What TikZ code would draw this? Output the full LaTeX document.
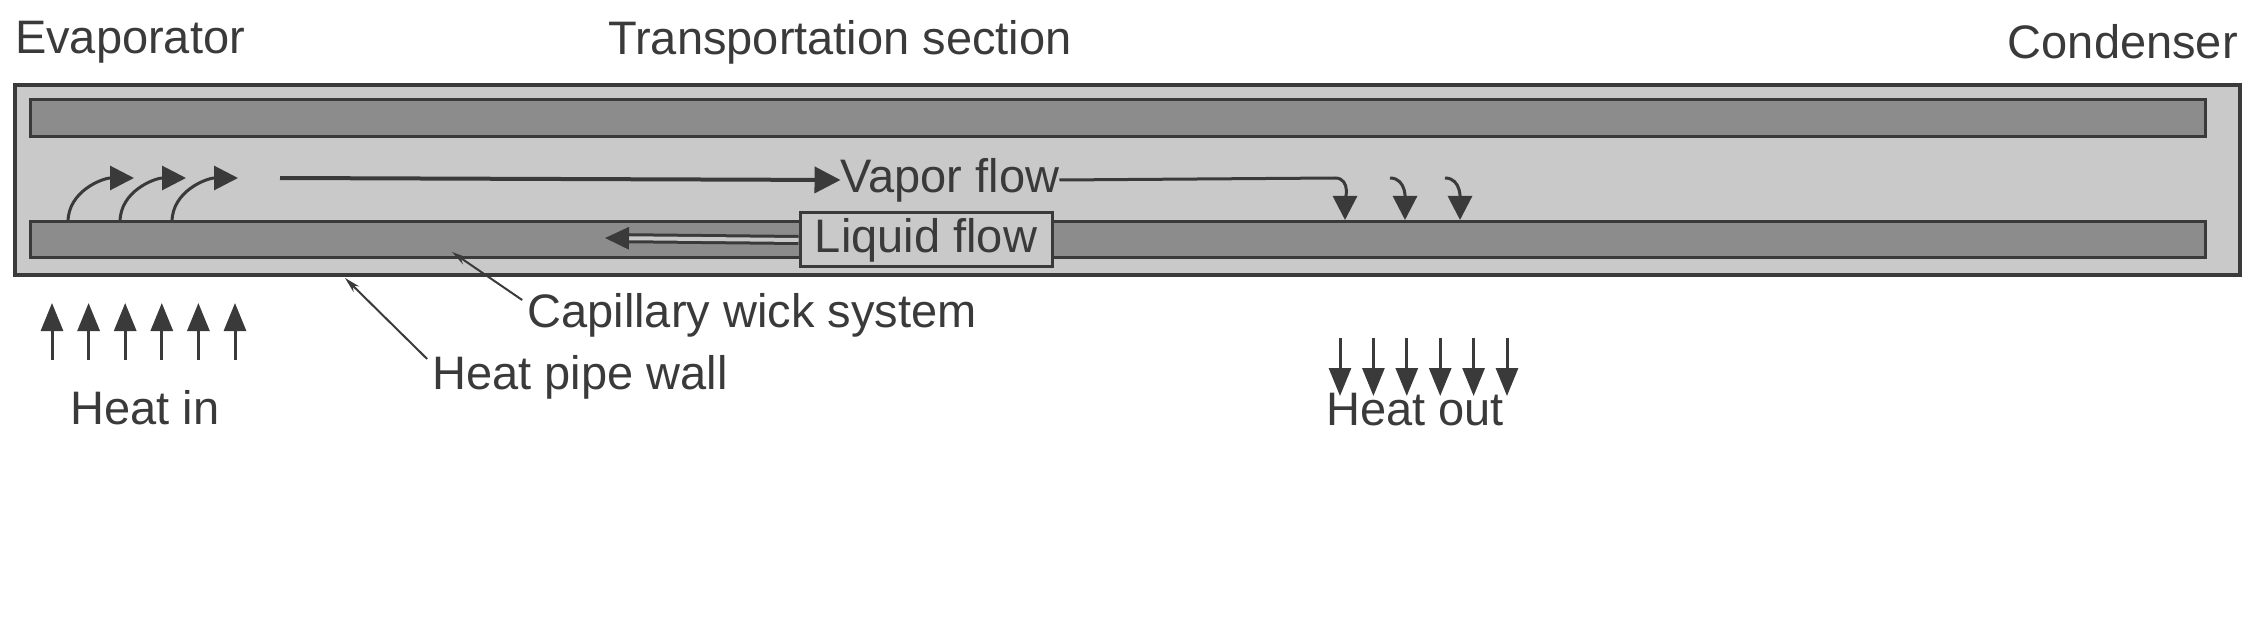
\documentclass[tikz,border=0pt]{standalone}
\usepackage{fontspec}
\setmainfont{Liberation Sans}
\usetikzlibrary{arrows.meta}
\definecolor{pipe}{HTML}{C9C9C9}
\definecolor{wick}{HTML}{8C8C8C}
\definecolor{ink}{HTML}{3A3A3A}
\begin{document}
\begin{tikzpicture}[x=1pt,y=-1pt,
  lab/.style={font=\fontsize{47}{50}\selectfont, text=ink, inner sep=0pt},
  bar/.style={draw=ink, line width=3pt, fill=wick},
  flow/.style={draw=ink, line width=4pt, -{Triangle[length=26pt,width=26pt]}},
  small/.style={draw=ink, line width=3pt, -{Triangle[length=24pt,width=24pt]}},
  heat/.style={draw=ink, line width=3pt, -{Triangle[length=28pt,width=22pt]}},
  lead/.style={draw=ink, line width=2pt, -{Stealth[length=16pt,width=8pt]}}]
\useasboundingbox (0,0) rectangle (2255,631);
% pipe
\draw[draw=ink, line width=4pt, fill=pipe] (15,85) rectangle (2240,275);
\draw[bar] (30,100) rectangle (2205,137);
\draw[bar] (30,222) rectangle (2205,258);
% titles
\node[lab] (evap) at (130,42) {Evaporator};
\node[lab] (trans) at (840,42) {Transportation section};
\node[lab, anchor=east] (cond) at (2238,42) {Condenser};
% vapor flow
\node[lab] (vap) at (950,180) {Vapor flow};
\coordinate (v0) at (280,178);
\draw[flow] (v0) -- (vap.west);
\coordinate (v1) at (1335,178);
\draw[small] (vap.east) -- (v1) to[out=0,in=90] (1345,220);
\draw[small] (1390,178) to[out=0,in=90] (1405,220);
\draw[small] (1445,178) to[out=0,in=90] (1460,220);
% evaporator arrows
\foreach \x in {68,120,172}
  \draw[small] (\x,222) to[out=90,in=180] (\x+66,178);
% liquid flow
\node[lab, draw=ink, line width=3pt, fill=pipe, minimum width=252pt, minimum height=54pt] (liq) at (926,240) {Liquid flow};
\coordinate (l1) at (605,238);
\draw[draw=ink, line width=3pt, double=pipe, double distance=4pt, -{Triangle[length=24pt,width=22pt]}] (liq.west) -- (l1);
% heat in / out
\foreach \i in {0,...,5} {
  \draw[heat] (52+\i*36.6,360) -- (52+\i*36.6,303);
  \draw[heat] (1340+\i*33.4,338) -- (1340+\i*33.4,396);
}
\node[lab] (hin) at (145,408) {Heat in};
\node[lab] (hout) at (1415,410) {Heat out};
% labels with leaders
\node[lab] (cap) at (752,315) {Capillary wick system};
\node[lab] (wall) at (580,377) {Heat pipe wall};
\coordinate (capt) at (452,252);
\coordinate (wallt) at (345,278);
\draw[lead] (cap.west) ++(-5,-15) -- (capt);
\draw[lead] (wall.west) ++(-5,-18) -- (wallt);
\end{tikzpicture}
\end{document}
